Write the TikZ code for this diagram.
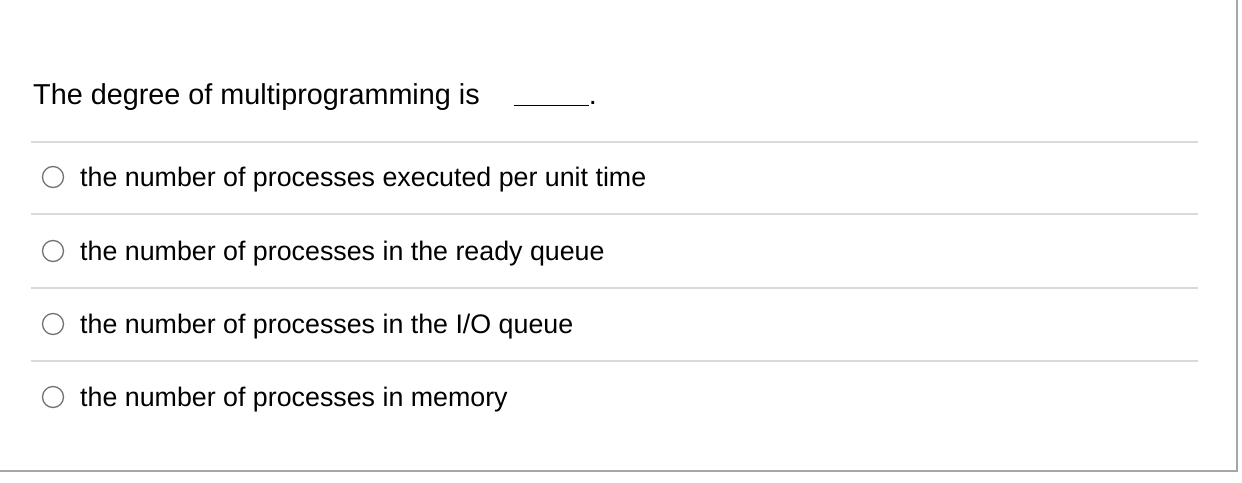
\documentclass[tikz,border=0pt]{standalone}
\usepackage{fontspec}
\setmainfont{Liberation Sans}
\begin{document}
\begin{tikzpicture}[x=1pt,y=-1pt,
  sep/.style={draw=black!15,line width=1.2pt},
  radio/.style={circle,draw=black!55,line width=1.3pt,minimum size=21pt,inner sep=0pt},
  opt/.style={anchor=base west,inner sep=0pt,font=\fontsize{26.8}{30}\selectfont},
]
\useasboundingbox (0,0) rectangle (1242,482);
\fill[white] (0,0) rectangle (1242,482);
\draw[black!35,line width=2.5pt] (0,471) -- (1237,471) -- (1237,0);
\node[anchor=base west,inner sep=0pt,font=\fontsize{28.8}{34}\selectfont] (q) at (33,104) {The degree of multiprogramming is \hspace{26pt}\rule[-2pt]{75pt}{1.3pt}.};
\foreach \i/\y/\t in {1/177/{the number of processes executed per unit time},
                      2/251/{the number of processes in the ready queue},
                      3/324/{the number of processes in the I/O queue},
                      4/397/{the number of processes in memory}}{
  \node[radio] (r\i) at (53,\y) {};
  \node[opt] (t\i) at (80,\y+9) {\t};
}
\foreach \y in {142,214,288,361}{
  \draw[sep] (31,\y) -- (1198,\y);
}
\end{tikzpicture}
\end{document}
